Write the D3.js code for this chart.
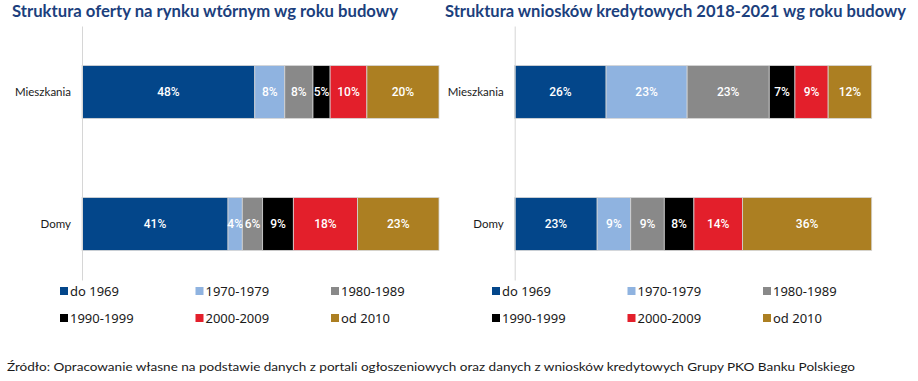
<!DOCTYPE html>
<html>
<head>
    <meta charset="utf-8">
    <title>Struktura wg roku budowy</title>
    <script src="https://d3js.org/d3.v7.min.js"></script>
    <style>
        body { margin: 0; background: #fff; }
        svg { display: block; }
    </style>
</head>
<body>
    <div id="chart"></div>
    <script>
        // dane
        const categories = ["Mieszkania", "Domy"];
        const periods = ["do 1969", "1970-1979", "1980-1989", "1990-1999", "2000-2009", "od 2010"];
        const colors = ["#03468a", "#8fb3e0", "#898989", "#000000", "#e31f2b", "#ac7f22"];

        const offerTitle = "Struktura oferty na rynku wtórnym wg roku budowy";
        const offerMieszkania = [48.4, 8.4, 7.9, 4.8, 10.3, 20.2];
        const offerDomy = [40.9, 4.0, 5.7, 8.6, 18.0, 22.8];

        const loanTitle = "Struktura wniosków kredytowych 2018-2021 wg roku budowy";
        const loanMieszkania = [25.6, 22.7, 23.0, 7.2, 9.3, 12.2];
        const loanDomy = [23.1, 9.4, 9.4, 8.3, 13.6, 36.2];

        const sourceText = "Źródło: Opracowanie własne na podstawie danych z portali ogłoszeniowych oraz danych z wniosków kredytowych Grupy PKO Banku Polskiego";

        const width = 918, height = 381;

        const svg = d3.select("#chart")
            .append("svg")
            .attr("width", width)
            .attr("height", height);

        function drawPanel(opts) {
            const g = svg.append("g");

            // tytuł
            g.append("text")
                .attr("x", opts.titleX)
                .attr("y", 17)
                .attr("textLength", opts.titleW)
                .attr("lengthAdjust", "spacingAndGlyphs")
                .style("font-family", "Lato, 'Noto Sans', sans-serif")
                .style("font-weight", "bold")
                .style("font-size", "17px")
                .style("fill", "#1c3f7d")
                .text(opts.title);

            const x = d3.scaleLinear()
                .domain([0, 100])
                .range([opts.axisX, opts.axisX + 357]);

            const y = d3.scaleBand()
                .domain(categories)
                .range([26, 280])
                .paddingInner(0.6)
                .paddingOuter(0.262)
                .align(0.572);

            const rows = categories.map((c, i) => {
                const vals = opts.series[i];
                let acc = 0;
                return vals.map((v, j) => {
                    const seg = { cat: c, period: periods[j], value: v, x0: acc, x1: acc + v, color: colors[j] };
                    acc += v;
                    return seg;
                });
            }).flat();

            g.selectAll("rect.seg")
                .data(rows)
                .join("rect")
                .attr("class", "seg")
                .attr("x", d => x(d.x0))
                .attr("y", d => y(d.cat))
                .attr("width", d => x(d.x1) - x(d.x0))
                .attr("height", y.bandwidth())
                .attr("fill", d => d.color)
                .attr("stroke", "#d4d4d4")
                .attr("stroke-width", 0.8);

            g.selectAll("text.val")
                .data(rows)
                .join("text")
                .attr("class", "val")
                .attr("x", d => (x(d.x0) + x(d.x1)) / 2)
                .attr("y", d => y(d.cat) + y.bandwidth() / 2)
                .attr("dy", "0.35em")
                .attr("text-anchor", "middle")
                .style("font-family", "Roboto, sans-serif")
                .style("font-weight", "500")
                .style("font-size", "12px")
                .style("fill", "#fff")
                .text(d => Math.round(d.value) + "%");

            // oś
            const axis = g.append("g")
                .attr("transform", `translate(${opts.axisX},0)`)
                .call(d3.axisLeft(y).tickSize(0).tickSizeOuter(0).tickPadding(11));
            axis.select(".domain").attr("stroke", "#d6d6d6");
            axis.selectAll("text")
                .style("font-family", "Lato, 'Noto Sans', sans-serif")
                .style("font-size", "11.5px")
                .style("fill", "#1a1a1a");

            // legenda
            const leg = g.selectAll("g.leg")
                .data(periods)
                .join("g")
                .attr("class", "leg")
                .attr("transform", (d, i) => `translate(${opts.legX + (i % 3) * 135.5},${291 + Math.floor(i / 3) * 27})`);
            leg.append("rect")
                .attr("x", 0)
                .attr("y", -4)
                .attr("width", 8)
                .attr("height", 8)
                .attr("fill", (d, i) => colors[i]);
            leg.append("text")
                .attr("x", 10)
                .attr("y", 0)
                .attr("dy", "0.35em")
                .style("font-family", "'Noto Sans', sans-serif")
                .style("font-size", "13px")
                .style("fill", "#1a1a1a")
                .text(d => d);
        }

        drawPanel({
            title: offerTitle, titleX: 12, titleW: 386,
            axisX: 82, legX: 60,
            series: [offerMieszkania, offerDomy]
        });
        drawPanel({
            title: loanTitle, titleX: 445, titleW: 461,
            axisX: 514.7, legX: 492,
            series: [loanMieszkania, loanDomy]
        });

        svg.append("text")
            .attr("x", 7)
            .attr("y", 371)
            .attr("textLength", 848)
            .attr("lengthAdjust", "spacingAndGlyphs")
            .style("font-family", "Lato, 'Noto Sans', sans-serif")
            .style("font-size", "12px")
            .style("fill", "#1a1a1a")
            .text(sourceText);
    </script>
</body>
</html>
